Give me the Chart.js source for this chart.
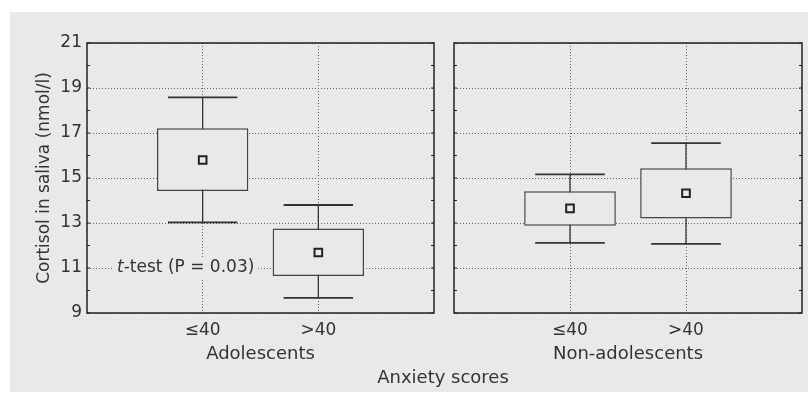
<!DOCTYPE html>
<html>
<head>
<meta charset="utf-8">
<script src="https://cdn.jsdelivr.net/npm/chart.js@4.4.1/dist/chart.umd.min.js"></script>
<style>
body{margin:0;background:#fff}
#panel{position:absolute;left:10px;top:12px;width:798px;height:380px;background:#e8e9eb}
canvas{position:absolute;top:0}
#left{left:0}
#right{left:444px}
#xtitle{position:absolute;left:343px;top:366px;width:200px;text-align:center;font:18px "DejaVu Sans";color:#333;line-height:22px}
</style>
</head>
<body>
<div id="panel"></div>
<canvas id="left" width="444" height="396"></canvas>
<canvas id="right" width="368" height="396"></canvas>
<div id="xtitle">Anxiety scores</div>
<script>
const groups=['Adolescents','Non-adolescents']
const scoreLabels=['≤40','>40']
const yTicks=[9,11,13,15,17,19,21]

// adolescents: whisker low, box q1, mean, box q3, whisker high
const adolLow=[13.03,9.67]
const adolQ1=[14.42,10.65]
const adolMean=[15.8,11.69]
const adolQ3=[17.21,12.76]
const adolHigh=[18.58,13.8]

// non-adolescents
const nonLow=[12.12,12.07]
const nonQ1=[12.88,13.2]
const nonMean=[13.65,14.32]
const nonQ3=[14.41,15.43]
const nonHigh=[15.16,16.55]

const noteText='t-test (P = 0.03)'
const bg='#e8e9eb'

Chart.defaults.font.family='"DejaVu Sans"'
Chart.defaults.color='#333'

const boxParts={
  id:'boxParts',
  beforeDatasetsDraw(chart,args,opts){
    const {ctx,scales:{x,y}}=chart
    ctx.save()
    ctx.strokeStyle='#333'
    opts.low.forEach((lo,i)=>{
      const px=x.getPixelForValue(i+1)
      const half=x.getPixelForValue(i+1.3)-px
      ctx.lineWidth=1.3
      ctx.beginPath()
      ctx.moveTo(px,y.getPixelForValue(lo))
      ctx.lineTo(px,y.getPixelForValue(opts.high[i]))
      ctx.stroke()
      ctx.lineWidth=1.8;
      [lo,opts.high[i]].forEach(v=>{
        const py=y.getPixelForValue(v)
        ctx.beginPath()
        ctx.moveTo(px-half,py)
        ctx.lineTo(px+half,py)
        ctx.stroke()
      })
    })
    ctx.restore()
  },
  afterDatasetsDraw(chart,args,opts){
    if(!opts.note) return
    const {ctx,scales:{x,y}}=chart
    const px=x.getPixelForValue(0.26), py=y.getPixelForValue(11)
    ctx.save()
    ctx.font='italic 17px "DejaVu Sans"'
    const w1=ctx.measureText('t').width
    ctx.font='17px "DejaVu Sans"'
    const rest=opts.note.slice(1)
    const w2=ctx.measureText(rest).width
    ctx.fillStyle=bg
    ctx.fillRect(px-4,py-11,w1+w2+8,22)
    ctx.fillStyle='#333'
    ctx.textBaseline='middle'
    ctx.font='italic 17px "DejaVu Sans"'
    ctx.fillText('t',px,py)
    ctx.font='17px "DejaVu Sans"'
    ctx.fillText(rest,px+w1,py)
    ctx.restore()
  },
  afterDraw(chart){
    const {ctx,chartArea:a,scales:{y}}=chart
    ctx.save()
    ctx.strokeStyle='#222'
    ctx.lineWidth=1.5
    ctx.strokeRect(a.left,a.top,a.right-a.left,a.bottom-a.top)
    ctx.lineWidth=1
    for(let v=y.min;v<=y.max;v++){
      const py=y.getPixelForValue(v)
      ctx.beginPath()
      ctx.moveTo(a.left,py);ctx.lineTo(a.left+3,py)
      ctx.moveTo(a.right-3,py);ctx.lineTo(a.right,py)
      ctx.stroke()
    }
    ctx.restore()
  }
}

function makeChart(id,group,low,q1,mean,q3,high,showY,note){
  return new Chart(document.getElementById(id),{
    type:'bar',
    data:{
      datasets:[{
        type:'scatter',
        data:mean.map((m,i)=>({x:i+1,y:m})),
        pointStyle:'rect',
        pointRadius:5.4,
        pointBorderWidth:2,
        pointBorderColor:'#222',
        pointBackgroundColor:bg,
        order:0
      },{
        type:'bar',
        data:q1.map((v,i)=>({x:i+1,y:[v,q3[i]]})),
        backgroundColor:bg,
        borderColor:'#444',
        borderWidth:1.5,
        borderSkipped:false,
        barPercentage:0.79,
        categoryPercentage:1,
        order:1
      }]
    },
    options:{
      responsive:false,
      animation:false,
      layout:{padding:{top:43,right:10,left:0,bottom:0}},
      plugins:{legend:{display:false},tooltip:{enabled:false},
        boxParts:{low,high,note}},
      scales:{
        x:{
          type:'linear',min:0,max:3,offset:false,
          afterBuildTicks:s=>{s.ticks=scoreLabels.map((l,i)=>({value:i+1}))},
          afterFit:s=>{s.height=83},
          ticks:{callback:v=>scoreLabels[v-1],padding:7,font:{size:17}},
          grid:{offset:false,drawTicks:false,color:'#666'},
          border:{display:false,dash:[1,2]},
          title:{display:true,text:group,font:{size:18},padding:{top:0,bottom:31}}
        },
        y:{
          min:9,max:21,beginAtZero:false,
          afterBuildTicks:s=>{s.ticks=yTicks.map(v=>({value:v}))},
          afterFit:s=>{s.width=showY?87:10},
          ticks:{display:showY,padding:5,font:{size:17}},
          grid:{drawTicks:false,color:'#666'},
          border:{display:false,dash:[1,2]},
          title:{display:showY,text:'Cortisol in saliva (nmol/l)',font:{size:17},padding:{top:34,bottom:0}}
        }
      }
    },
    plugins:[boxParts]
  })
}

makeChart('left',groups[0],adolLow,adolQ1,adolMean,adolQ3,adolHigh,true,noteText)
makeChart('right',groups[1],nonLow,nonQ1,nonMean,nonQ3,nonHigh,false,null)
</script>
</body>
</html>
